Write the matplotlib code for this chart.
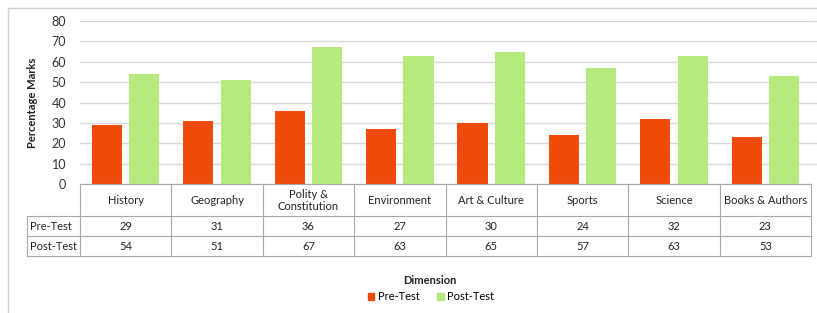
import matplotlib
matplotlib.use("Agg")
import matplotlib.pyplot as plt
from matplotlib.patches import Rectangle
from matplotlib.lines import Line2D
import numpy as np

categories = ["History", "Geography", "Polity &\nConstitution", "Environment",
              "Art & Culture", "Sports", "Science", "Books & Authors"]
pre_test = [29, 31, 36, 27, 30, 24, 32, 23]
post_test = [54, 51, 67, 63, 65, 57, 63, 53]
series_names = ["Pre-Test", "Post-Test"]
colors = ["#EE4B0B", "#B5EA7E"]
yticks = [0, 10, 20, 30, 40, 50, 60, 70, 80]

plt.rcParams['font.family'] = ['Lato', 'DejaVu Sans']

W, H = 817, 313
fig = plt.figure(figsize=(W / 100, H / 100), dpi=100)

def fx(px):
    return px / W

def fy(py):
    return 1 - py / H

ax_l, ax_r, ax_t, ax_b = 80, 811, 21, 184
ax = fig.add_axes([fx(ax_l), fy(ax_b), fx(ax_r - ax_l), (ax_b - ax_t) / H])

n = len(categories)
x = np.arange(n)
bw = 0.33
ax.bar(x - 0.205, pre_test, width=bw, color=colors[0], zorder=3)
ax.bar(x + 0.205, post_test, width=bw, color=colors[1], zorder=3)
ax.set_xlim(-0.5, n - 0.5)
ax.set_ylim(0, 80)
ax.set_yticks(yticks)
ax.set_yticklabels([str(v) for v in yticks], fontsize=9, color="#333333")
ax.set_xticks([])
ax.yaxis.grid(True, color="#D9D9D9", linewidth=1.0, zorder=0)
for s in ax.spines.values():
    s.set_visible(False)
ax.tick_params(axis='y', length=0, pad=10)
ax.set_ylabel("Percentage Marks", fontsize=8, fontweight="bold", color="#222222", labelpad=10)

# extend gridlines to figure right edge
for v in yticks[1:]:
    ypx = ax_b - (ax_b - ax_t) * v / 80
    fig.add_artist(Line2D([fx(ax_r), fx(817)], [fy(ypx), fy(ypx)], color="#D9D9D9", lw=1.0))

# outer frame
fig.add_artist(Rectangle((fx(8), fy(330)), fx(830), (330 - 8) / H, fill=False,
                         edgecolor="#D0D0D0", lw=1.0))

# data table
lc = "#A8A8A8"
colw = (ax_r - ax_l) / n
row_y = [184, 216, 236, 256]
lab_l = 27
fig.add_artist(Line2D([fx(ax_l), fx(ax_r)], [fy(184), fy(184)], color=lc, lw=0.8))
for ry in row_y[1:]:
    fig.add_artist(Line2D([fx(lab_l), fx(ax_r)], [fy(ry), fy(ry)], color=lc, lw=0.8))
for i in range(n + 1):
    xp = ax_l + i * colw
    fig.add_artist(Line2D([fx(xp), fx(xp)], [fy(184), fy(256)], color=lc, lw=0.8))
fig.add_artist(Line2D([fx(lab_l), fx(lab_l)], [fy(216), fy(256)], color=lc, lw=0.8))

tc = "#222222"
fs = 8
for i, c in enumerate(categories):
    cx = ax_l + (i + 0.5) * colw
    fig.text(fx(cx), fy(200.5), c, ha="center", va="center", fontsize=fs, color=tc,
             linespacing=1.15)
    fig.text(fx(cx), fy(226.5), str(pre_test[i]), ha="center", va="center", fontsize=fs, color=tc)
    fig.text(fx(cx), fy(246.5), str(post_test[i]), ha="center", va="center", fontsize=fs, color=tc)
fig.text(fx(lab_l + 3), fy(226), series_names[0], ha="left", va="center", fontsize=fs, color=tc)
fig.text(fx(lab_l + 3), fy(246), series_names[1], ha="left", va="center", fontsize=fs, color=tc)

fig.text(fx(430), fy(281), "Dimension", ha="center", va="center", fontsize=8,
         fontweight="bold", color=tc)
handles = [Rectangle((0, 0), 1, 1, color=colors[0]), Rectangle((0, 0), 1, 1, color=colors[1])]
fig.legend(handles, series_names, loc="center", bbox_to_anchor=(fx(431), fy(297)), ncol=2,
           frameon=False, fontsize=8, handlelength=0.6, handleheight=0.6,
           handletextpad=0.3, columnspacing=1.6, borderpad=0)

fig.savefig("out.png", dpi=100)
